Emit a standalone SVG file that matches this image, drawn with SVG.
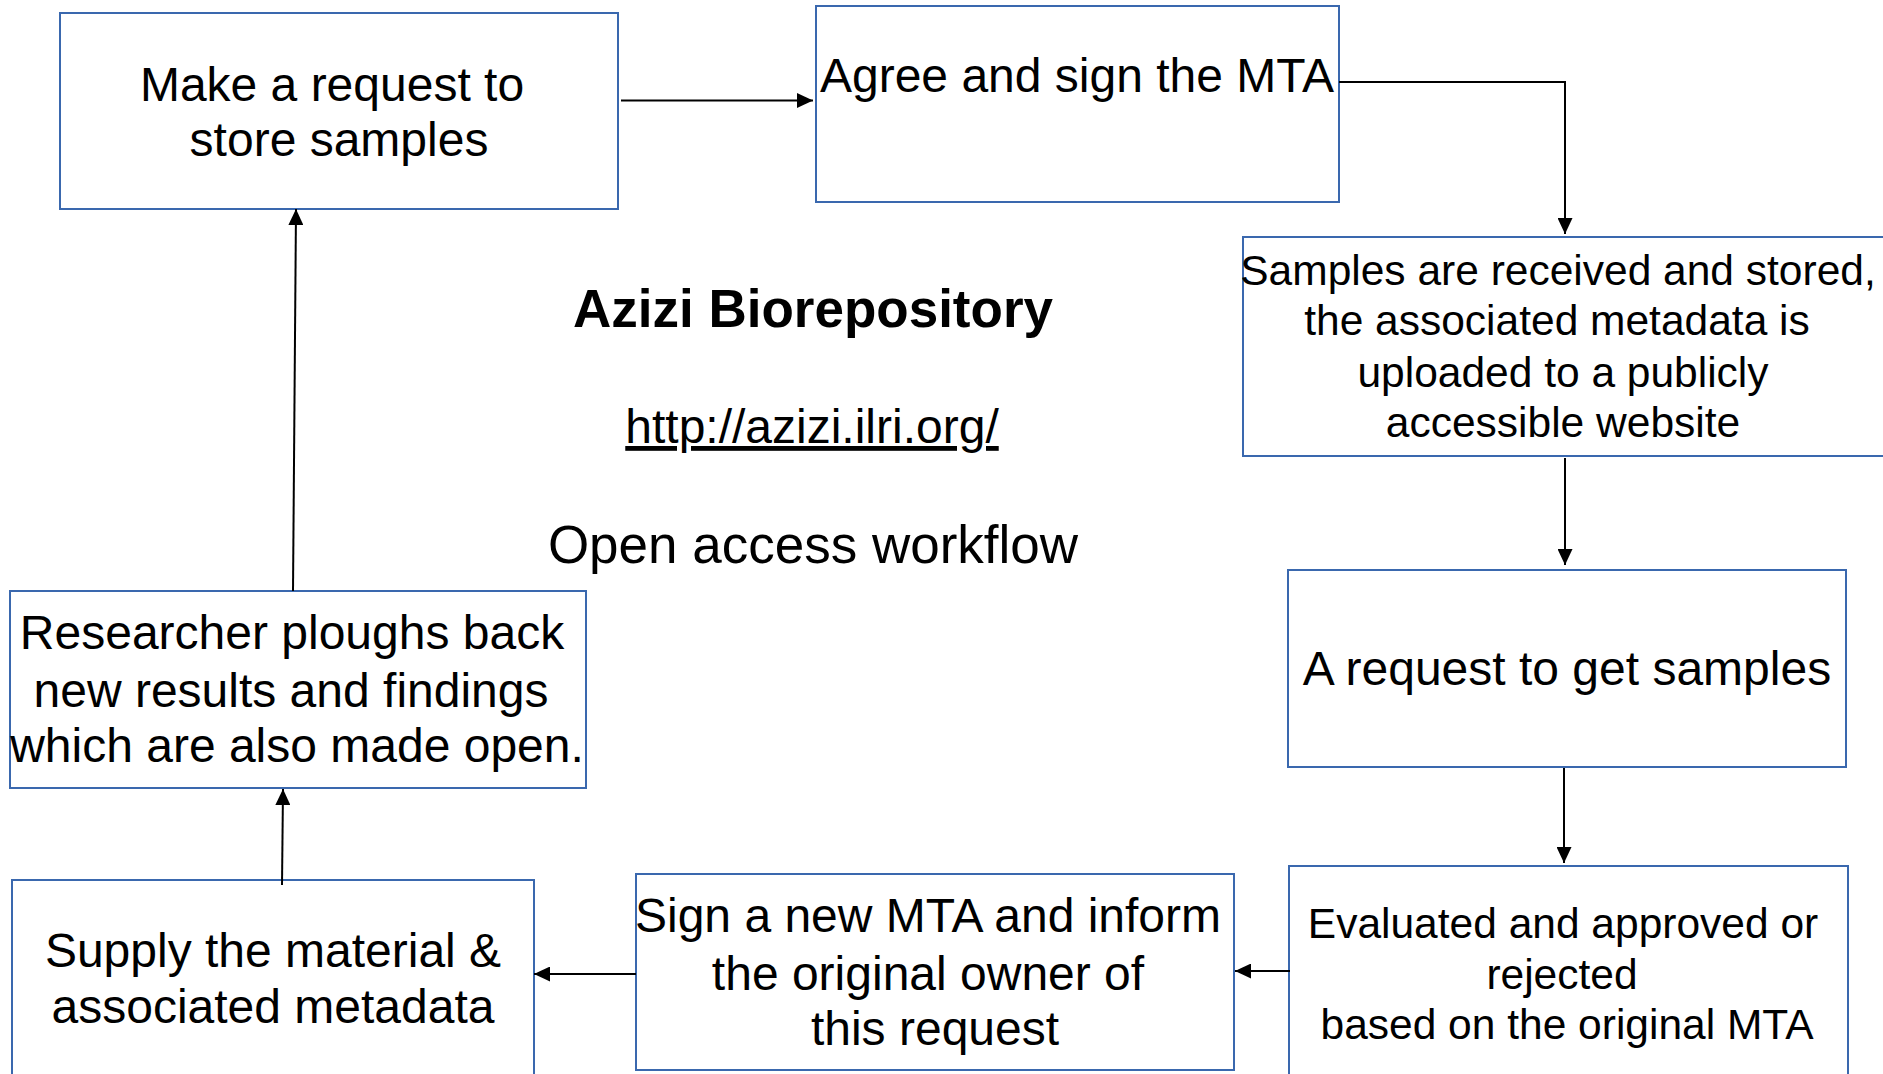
<svg xmlns="http://www.w3.org/2000/svg" width="1883" height="1074" viewBox="0 0 1883 1074">
<style>
.box{fill:#ffffff;stroke:#3A68AE;stroke-width:2}
.t{font-family:"Liberation Sans",Arial,sans-serif;font-size:48px;fill:#000;text-anchor:middle}
.s{font-size:42.5px}
.c{fill:none;stroke:#000;stroke-width:2}
</style>
<defs>
<marker id="ah" markerUnits="userSpaceOnUse" markerWidth="16" markerHeight="15" refX="16" refY="7.5" orient="auto">
<path d="M0,0 L16,7.5 L0,15 z" fill="#000"/>
</marker>
</defs>
<rect width="1883" height="1074" fill="#ffffff"/>
<g id="title">
<text x="813" y="327" class="t" style="font-size:53px;font-weight:bold">Azizi Biorepository</text>
<text x="812" y="443" class="t" style="text-decoration:underline">http://azizi.ilri.org/</text>
<text x="813" y="563" class="t" style="font-size:53px">Open access workflow</text>
</g>
<g id="n1">
<rect class="box" x="60" y="13" width="558" height="196"/>
<text class="t" x="332" y="101">Make a request to</text>
<text class="t" x="339" y="156">store samples</text>
</g>
<g id="n2">
<rect class="box" x="816" y="6" width="523" height="196"/>
<text class="t" x="1077" y="92">Agree and sign the MTA</text>
</g>
<g id="n3">
<rect class="box" x="1243" y="237" width="660" height="219"/>
<text class="t s" x="1558" y="285">Samples are received and stored,</text>
<text class="t s" x="1557" y="335">the associated metadata is</text>
<text class="t s" x="1563" y="387">uploaded to a publicly</text>
<text class="t s" x="1563" y="437">accessible website</text>
</g>
<g id="n4">
<rect class="box" x="1288" y="570" width="558" height="197"/>
<text class="t" x="1567" y="685">A request to get samples</text>
</g>
<g id="n5">
<rect class="box" x="1289" y="866" width="559" height="230"/>
<text class="t s" x="1563" y="938">Evaluated and approved or</text>
<text class="t s" x="1562" y="989">rejected</text>
<text class="t s" x="1567" y="1039">based on the original MTA</text>
</g>
<g id="n6">
<rect class="box" x="636" y="874" width="598" height="196"/>
<text class="t" x="928" y="932">Sign a new MTA and inform</text>
<text class="t" x="928" y="990">the original owner of</text>
<text class="t" x="935" y="1045">this request</text>
</g>
<g id="n7">
<rect class="box" x="12" y="880" width="522" height="230"/>
<text class="t" x="273" y="967">Supply the material &amp;</text>
<text class="t" x="273" y="1023">associated metadata</text>
</g>
<g id="n8">
<rect class="box" x="10" y="591" width="576" height="197"/>
<text class="t" x="292" y="649">Researcher ploughs back</text>
<text class="t" x="291" y="707">new results and findings</text>
<text class="t" x="297" y="762">which are also made open.</text>
</g>
<g id="connectors">
<path class="c" d="M621,100.5 H813" marker-end="url(#ah)"/>
<path class="c" d="M1339,82 H1565 V234" marker-end="url(#ah)"/>
<path class="c" d="M1565,458 V565" marker-end="url(#ah)"/>
<path class="c" d="M1564,768 V863" marker-end="url(#ah)"/>
<path class="c" d="M1290,971 H1235" marker-end="url(#ah)"/>
<path class="c" d="M636,974 H534" marker-end="url(#ah)"/>
<path class="c" d="M282,885 L283,789" marker-end="url(#ah)"/>
<path class="c" d="M293,591 L296,209" marker-end="url(#ah)"/>
</g>
</svg>
